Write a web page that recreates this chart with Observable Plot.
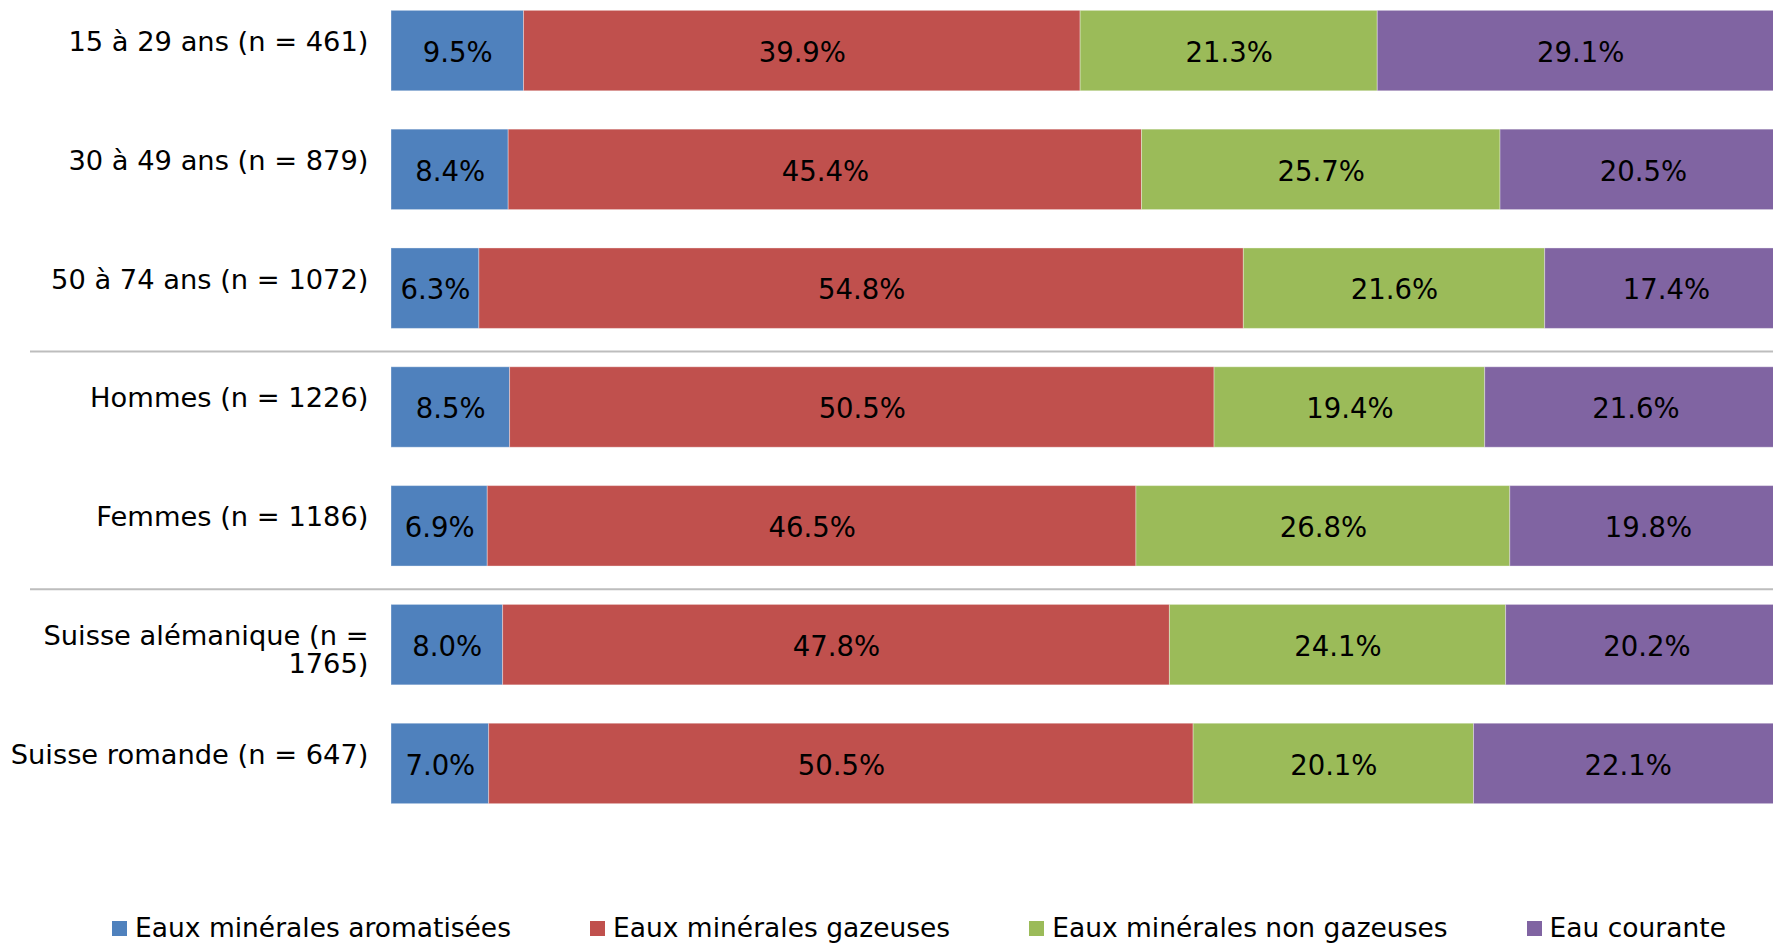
<!DOCTYPE html>
<html>
<head>
<meta charset="utf-8">
<script src="https://cdn.jsdelivr.net/npm/d3@7"></script>
<script src="https://cdn.jsdelivr.net/npm/@observablehq/plot@0.6"></script>
<style>
  html, body { margin: 0; padding: 0; background: #fff; overflow: hidden; }
  #chart { width: 1773px; font-family: "DejaVu Sans", Verdana, sans-serif; }
  .legend { display: flex; align-items: center; padding-left: 112px; padding-top: 13px; height: 30px; gap: 79px; }
  .legend .item { display: flex; align-items: center; font-size: 26.5px; line-height: 30px; color: #000; white-space: nowrap; }
  .legend .sw { width: 15px; height: 15px; margin-right: 8px; flex: none; }
</style>
</head>
<body>
<div id="chart"></div>
<script>
// ---- Data ----
const categories = [
  "15 à 29 ans (n = 461)",
  "30 à 49 ans (n = 879)",
  "50 à 74 ans (n = 1072)",
  "Hommes (n = 1226)",
  "Femmes (n = 1186)",
  "Suisse alémanique (n = 1765)",
  "Suisse romande (n = 647)"
];
const categoryLabels = [
  "15 à 29 ans (n = 461)",
  "30 à 49 ans (n = 879)",
  "50 à 74 ans (n = 1072)",
  "Hommes (n = 1226)",
  "Femmes (n = 1186)",
  "Suisse alémanique (n =\n1765)",
  "Suisse romande (n = 647)"
];
const series = [
  "Eaux minérales aromatisées",
  "Eaux minérales gazeuses",
  "Eaux minérales non gazeuses",
  "Eau courante"
];
const colors = ["#4F81BD", "#C0504D", "#9BBB59", "#8064A2"];

const aromatisees = [9.5, 8.4, 6.3, 8.5, 6.9, 8.0, 7.0];
const gazeuses    = [39.9, 45.4, 54.8, 50.5, 46.5, 47.8, 50.5];
const nonGazeuses = [21.3, 25.7, 21.6, 19.4, 26.8, 24.1, 20.1];
const courante    = [29.1, 20.5, 17.4, 21.6, 19.8, 20.2, 22.1];

// first category of each new group (a separator line is drawn above it)
const groupStarts = ["Hommes (n = 1226)", "Suisse alémanique (n = 1765)"];

// ---- Table built from the arrays ----
const seriesValues = [aromatisees, gazeuses, nonGazeuses, courante];
const data = categories.flatMap((cat, i) =>
  series.map((s, j) => ({cat, series: s, value: seriesValues[j][i]}))
);

const FONT = "DejaVu Sans";

const plot = Plot.plot({
  width: 1773,
  height: 900,
  marginLeft: 391,
  marginRight: 0,
  marginTop: 0,
  marginBottom: 86,
  style: {fontFamily: FONT, background: "white", color: "black"},
  x: {domain: [0, 100], range: [391, 1786], axis: null},
  y: {domain: categories, range: [0, 814], paddingInner: 0.323, paddingOuter: 0.087, round: false, axis: null},
  color: {domain: series, range: colors},
  marks: [
    Plot.ruleY(groupStarts, {y: d => d, dy: -56, stroke: "#BDBDBD", strokeWidth: 2, insetLeft: -361}),
    Plot.barX(data, Plot.stackX({
      x: "value", y: "cat", fill: "series", order: series,
      stroke: "#ffffff", strokeOpacity: 0.35, strokeWidth: 1
    })),
    Plot.text(data, Plot.stackX({
      x: "value", y: "cat", z: "series", order: series,
      text: d => d.value.toFixed(1) + "%",
      fontSize: 27.5, fill: "black", dy: 2
    })),
    Plot.text(categories, {
      y: d => d,
      text: (d, i) => categoryLabels[i],
      frameAnchor: "left", textAnchor: "end", dx: -23,
      lineAnchor: "top", dy: -20, lineHeight: 1.03,
      fontSize: 27.3, fill: "black"
    })
  ]
});

const chart = document.getElementById("chart");
chart.appendChild(plot);

const legend = document.createElement("div");
legend.className = "legend";
series.forEach((s, i) => {
  const item = document.createElement("div");
  item.className = "item";
  const sw = document.createElement("span");
  sw.className = "sw";
  sw.style.background = colors[i];
  const label = document.createElement("span");
  label.textContent = s;
  item.appendChild(sw);
  item.appendChild(label);
  legend.appendChild(item);
});
chart.appendChild(legend);
</script>
</body>
</html>
